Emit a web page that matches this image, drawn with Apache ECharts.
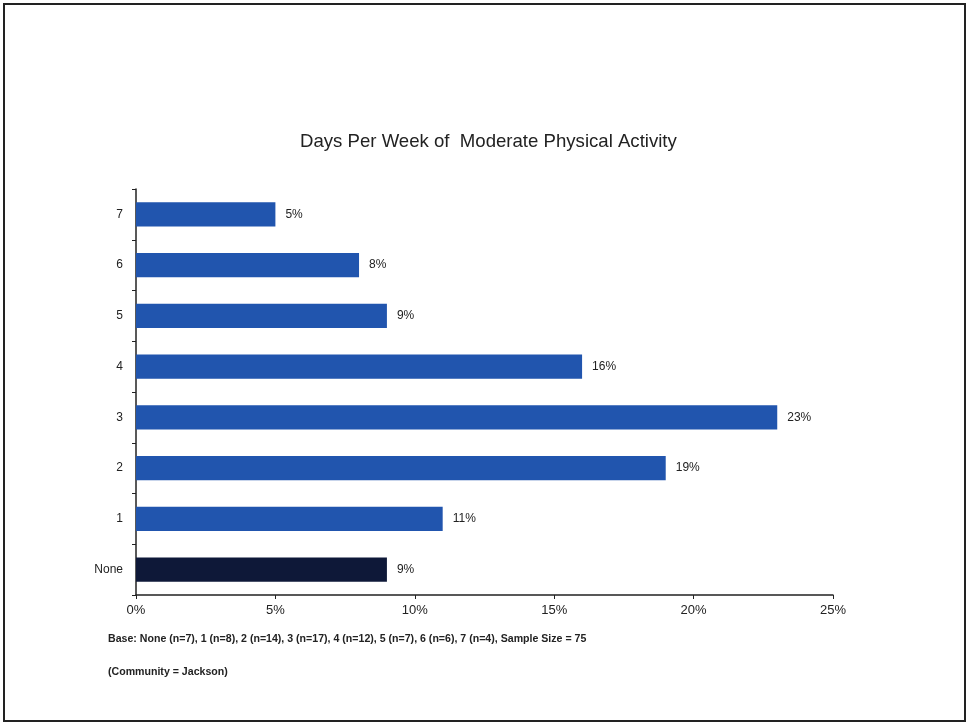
<!DOCTYPE html>
<html><head><meta charset="utf-8">
<script src="https://cdn.jsdelivr.net/npm/echarts@6/dist/echarts.min.js"></script>
<style>html,body{margin:0;padding:0;background:#fff}#c{width:968px;height:723px}</style>
</head><body><div id="c"></div>
<script>
var categories = ['None', '1', '2', '3', '4', '5', '6', '7'];
var values = [9, 11, 19, 23, 16, 9, 8, 5];
var xTicks = [0, 5, 10, 15, 20, 25];
var barColors = ['#0e1838', '#2155ae', '#2155ae', '#2155ae', '#2155ae', '#2155ae', '#2155ae', '#2155ae'];
var titleText = 'Days Per Week of  Moderate Physical Activity';
var footnotes = ['Base: None (n=7), 1 (n=8), 2 (n=14), 3 (n=17), 4 (n=12), 5 (n=7), 6 (n=6), 7 (n=4), Sample Size = 75', '(Community = Jackson)'];

var chart = echarts.init(document.getElementById('c'));
var font = 'Liberation Sans, Arial, sans-serif';
chart.setOption({
  animation: false,
  backgroundColor: '#fff',
  title: { text: titleText, left: 295, top: 127, textStyle: { fontFamily: font, fontSize: 18.6, fontWeight: 'normal', color: '#222' } },
  grid: { left: 136, right: 135, top: 189, bottom: 128 },
  xAxis: {
    type: 'value', min: xTicks[0], max: xTicks[xTicks.length - 1], interval: 5,
    splitLine: { show: false },
    axisLine: { show: true, lineStyle: { color: '#222', width: 1.5 } },
    axisTick: { show: true, length: 4, lineStyle: { color: '#222' } },
    axisLabel: { formatter: '{value}%', fontFamily: font, fontSize: 13, color: '#222', margin: 9 }
  },
  yAxis: {
    type: 'category', data: categories,
    axisLine: { show: true, lineStyle: { color: '#222', width: 1.5 } },
    axisTick: { show: true, length: 4, lineStyle: { color: '#222' } },
    axisLabel: { fontFamily: font, fontSize: 12, color: '#222', margin: 13 }
  },
  series: [{
    type: 'bar', barWidth: '48%',
    data: values.map(function (v, i) { return { value: v, itemStyle: { color: barColors[i] } }; }),
    label: { show: true, position: 'right', distance: 10, formatter: '{c}%', fontFamily: font, fontSize: 12, color: '#222' }
  }],
  graphic: [
    { type: 'rect', shape: { x: 4, y: 4, width: 961, height: 717 }, style: { fill: 'none', stroke: '#222', lineWidth: 2 } },
    { type: 'text', left: 108, top: 634, style: { text: footnotes[0], font: 'bold 10.6px ' + font, fill: '#222' } },
    { type: 'text', left: 108, top: 667, style: { text: footnotes[1], font: 'bold 10.6px ' + font, fill: '#222' } }
  ]
});
</script></body></html>
